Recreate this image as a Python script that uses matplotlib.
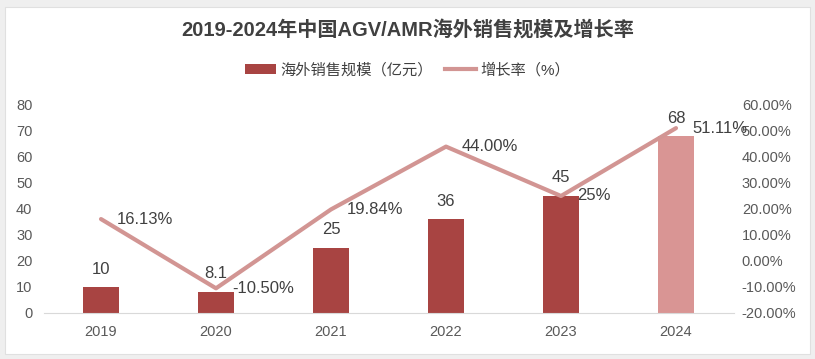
import matplotlib
matplotlib.use("Agg")
import matplotlib.pyplot as plt
from matplotlib.patches import Rectangle, Patch
from matplotlib.lines import Line2D
from matplotlib.ticker import FuncFormatter, MultipleLocator

plt.rcParams['font.family'] = ['Liberation Sans', 'Noto Sans CJK SC', 'DejaVu Sans']

years = ['2019', '2020', '2021', '2022', '2023', '2024']
sales = [10, 8.1, 25, 36, 45, 68]
sales_labels = ['10', '8.1', '25', '36', '45', '68']
growth = [16.13, -10.50, 19.84, 44.00, 25.0, 51.11]
growth_labels = ['16.13%', '-10.50%', '19.84%', '44.00%', '25%', '51.11%']

title = '2019-2024年中国AGV/AMR海外销售规模及增长率'
bar_name = '海外销售规模（亿元）'
line_name = '增长率（%）'

bar_color = '#A84442'
bar_last = '#D99594'
line_color = '#D29593'
text_color = '#404040'

fig = plt.figure(figsize=(8.15, 3.59), dpi=100)
fig.patches.append(Rectangle((0, 0), 1, 1, transform=fig.transFigure,
                             facecolor='#EFEFEF', edgecolor='none', zorder=-10))
fig.patches.append(Rectangle((5/815, 5/359), 805/815, 347/359, transform=fig.transFigure,
                             facecolor='white', edgecolor='#E0E0E0', lw=0.8, zorder=-9))

ax = fig.add_axes([43.5/815, 1-313/359, 690/815, 208/359])
ax.set_facecolor('none')
x = list(range(len(years)))
colors = [bar_color]*(len(years)-1) + [bar_last]
ax.bar(x, sales, width=0.31, color=colors, zorder=2)
ax.set_ylim(0, 80)
ax.set_xlim(-0.5, len(years)-0.5)
ax.yaxis.set_major_locator(MultipleLocator(10))
ax.set_xticks(x)
ax.set_xticklabels(years)
for s in ['top', 'left', 'right']:
    ax.spines[s].set_visible(False)
ax.spines['bottom'].set_color('#D9D9D9')
ax.tick_params(axis='both', length=0, labelsize=10.5, colors='#595959')
ax.tick_params(axis='x', pad=9)
ax.tick_params(axis='y', pad=8)
for xi, v, lab in zip(x, sales, sales_labels):
    ax.annotate(lab, (xi, v), xytext=(0, 18), textcoords='offset pixels',
                ha='center', va='center', fontsize=12, color=text_color)

ax2 = ax.twinx()
ax2.plot(x, growth, color=line_color, lw=3, zorder=3, solid_capstyle='round')
ax2.set_ylim(-20, 60)
ax2.yaxis.set_major_locator(MultipleLocator(10))
ax2.yaxis.set_major_formatter(FuncFormatter(lambda v, p: f'{v:.2f}%'))
for s in ['top', 'left', 'right', 'bottom']:
    ax2.spines[s].set_visible(False)
ax2.tick_params(axis='y', length=0, labelsize=10.5, colors='#595959', pad=6)
for xi, v, lab in zip(x, growth, growth_labels):
    ax2.annotate(lab, (xi, v), xytext=(16, 0), textcoords='offset pixels',
                 ha='left', va='center', fontsize=12, color=text_color)

fig.text(0.5, 1-30/359, title, ha='center', va='center', fontsize=14.5,
         fontweight='bold', color='#404040')

handles = [Patch(facecolor=bar_color, edgecolor='none'),
           Line2D([0], [0], color=line_color, lw=3)]
fig.legend(handles, [bar_name, line_name], loc='center', bbox_to_anchor=(0.5, 1-70/359),
           ncol=2, frameon=False, fontsize=11, handlelength=2.0, handleheight=0.7,
           columnspacing=0.8, handletextpad=0.3, labelcolor='#404040')

fig.savefig('out.png', dpi=100)
